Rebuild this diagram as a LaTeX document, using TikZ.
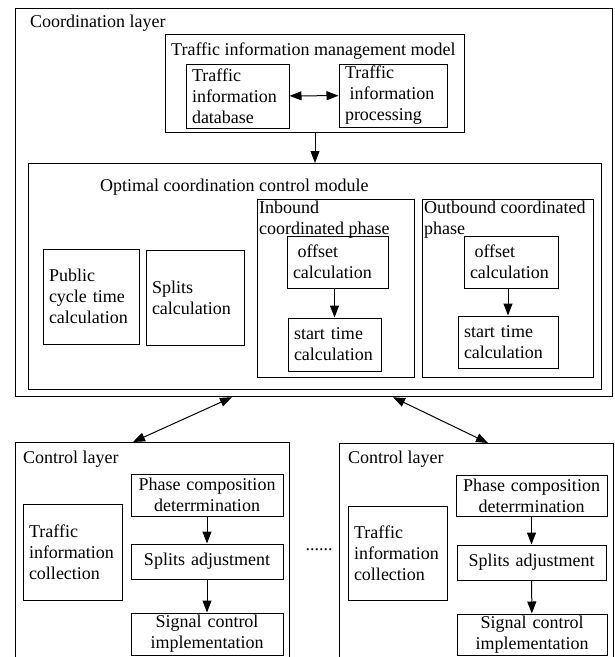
\documentclass[tikz,border=0pt]{standalone}
\usepackage{fontspec}
\setmainfont{Liberation Serif}
\usetikzlibrary{arrows.meta}

\tikzset{
  layer/.style={draw, line width=1.2pt, inner sep=0pt, anchor=north west},
  blk/.style={draw, line width=1pt, inner xsep=6pt, inner ysep=0pt, align=left},
  cblk/.style={draw, line width=1pt, inner xsep=4pt, inner ysep=0pt, align=center},
  lbl/.style={inner sep=0pt, align=left, anchor=north west},
  ttl/.style={inner sep=0pt, anchor=base west},
  arr/.style={-{Triangle[length=12pt,width=9pt]}, line width=1pt},
  darr/.style={{Triangle[length=12pt,width=9pt]}-{Triangle[length=12pt,width=9pt]}, line width=1pt},
}

\begin{document}
\begin{tikzpicture}[x=1pt, y=-1pt, every node/.style={font=\fontsize{18}{21}\selectfont}]
    \useasboundingbox (0,0) rectangle (615,657);
    \clip (0,0) rectangle (615,657);

    % coordination layer
    \node[layer, minimum width=597pt, minimum height=388pt] (coord) at (15,8) {};
    \node[ttl] (coordt) at (30,27) {Coordination layer};

    % traffic information management model
    \node[layer, line width=1pt, minimum width=299pt, minimum height=98pt] (timm) at (165,34) {};
    \node[ttl] (timmt) at (171,55) {Traffic information management model};
    \node[blk, text width=91pt, minimum height=64pt] (tid) at (237.5,96) {Traffic\\information\\database};
    \node[blk, text width=96pt, minimum height=63pt] (tip) at (393,95.5) {Traffic\\\hspace*{.25em}information\\processing};
    \draw[darr] (tid) -- (tip);

    % optimal coordination control module
    \node[layer, minimum width=573pt, minimum height=226pt] (occm) at (28,163) {};
    \node[ttl] (occmt) at (100,191) {Optimal coordination control module};
    \draw[arr] (timm.south) -- (timm.south |- occm.north);

    \node[blk, text width=84pt, minimum height=95pt] (pub) at (91,296.5) {Public\\cycle time\\calculation};
    \node[blk, text width=86pt, minimum height=95pt] (spl) at (195,297.5) {Splits\\calculation};

    % inbound coordinated phase
    \node[layer, line width=1pt, minimum width=157pt, minimum height=178pt] (inb) at (257,199) {};
    \node[lbl] (inbt) at (259,201) {Inbound\\coordinated phase};
    \node[blk, text width=89pt, minimum height=52pt] (inoff) at (337.5,262) {\hspace*{.25em}offset\\calculation};
    \node[blk, text width=81pt, minimum height=53pt] (inst) at (334.5,344.5) {start time\\calculation};
    \draw[arr] (inst.north |- inoff.south) -- (inst.north);

    % outbound coordinated phase
    \node[layer, line width=1pt, minimum width=171pt, minimum height=178pt] (outb) at (422,199) {};
    \node[lbl] (outbt) at (424,201) {Outbound coordinated\\phase};
    \node[blk, text width=82pt, minimum height=52pt] (outoff) at (511,262) {\hspace*{.25em}offset\\calculation};
    \node[blk, text width=88pt, minimum height=52pt] (outst) at (508,342) {start time\\calculation};
    \draw[arr] (outst.north |- outoff.south) -- (outst.north);

    % control layers
    \node[layer, minimum width=274pt, minimum height=258pt] (ctrla) at (15,442) {};
    \node[ttl] (ctrlat) at (23,463) {Control layer};
    \node[blk, text width=87pt, minimum height=96pt] (tica) at (72.5,552) {Traffic\\information\\collection};
    \node[cblk, text width=144pt, minimum height=42pt] (pha) at (207,495) {Phase composition\\deterrmination};
    \node[cblk, text width=144pt, minimum height=35pt] (spa) at (207,561.5) {Splits adjustment};
    \node[cblk, text width=144pt, minimum height=42pt] (siga) at (207,634) {Signal control\\implementation};
    \draw[arr] (pha) -- (spa);
    \draw[arr] (spa) -- (siga);

    \node[inner sep=0pt] (dots) at (319,550) {......};

    \node[layer, minimum width=274pt, minimum height=258pt] (ctrlb) at (339,443) {};
    \node[ttl] (ctrlbt) at (348,463) {Control layer};
    \node[blk, text width=87pt, minimum height=94pt] (ticb) at (397.5,553) {Traffic\\information\\collection};
    \node[cblk, text width=143pt, minimum height=41pt] (phb) at (531.5,495.5) {Phase composition\\deterrmination};
    \node[cblk, text width=141pt, minimum height=35pt] (spb) at (531.5,562.5) {Splits adjustment};
    \node[cblk, text width=142pt, minimum height=41pt] (sigb) at (532,634.5) {Signal control\\implementation};
    \draw[arr] (phb) -- (spb);
    \draw[arr] (spb) -- (sigb);

    % links between layers
    \draw[darr] ([xshift=217pt]coord.south west) -- ([xshift=118pt]ctrla.north west);
    \draw[darr] ([xshift=378pt]coord.south west) -- ([xshift=149pt]ctrlb.north west);
\end{tikzpicture}
\end{document}
